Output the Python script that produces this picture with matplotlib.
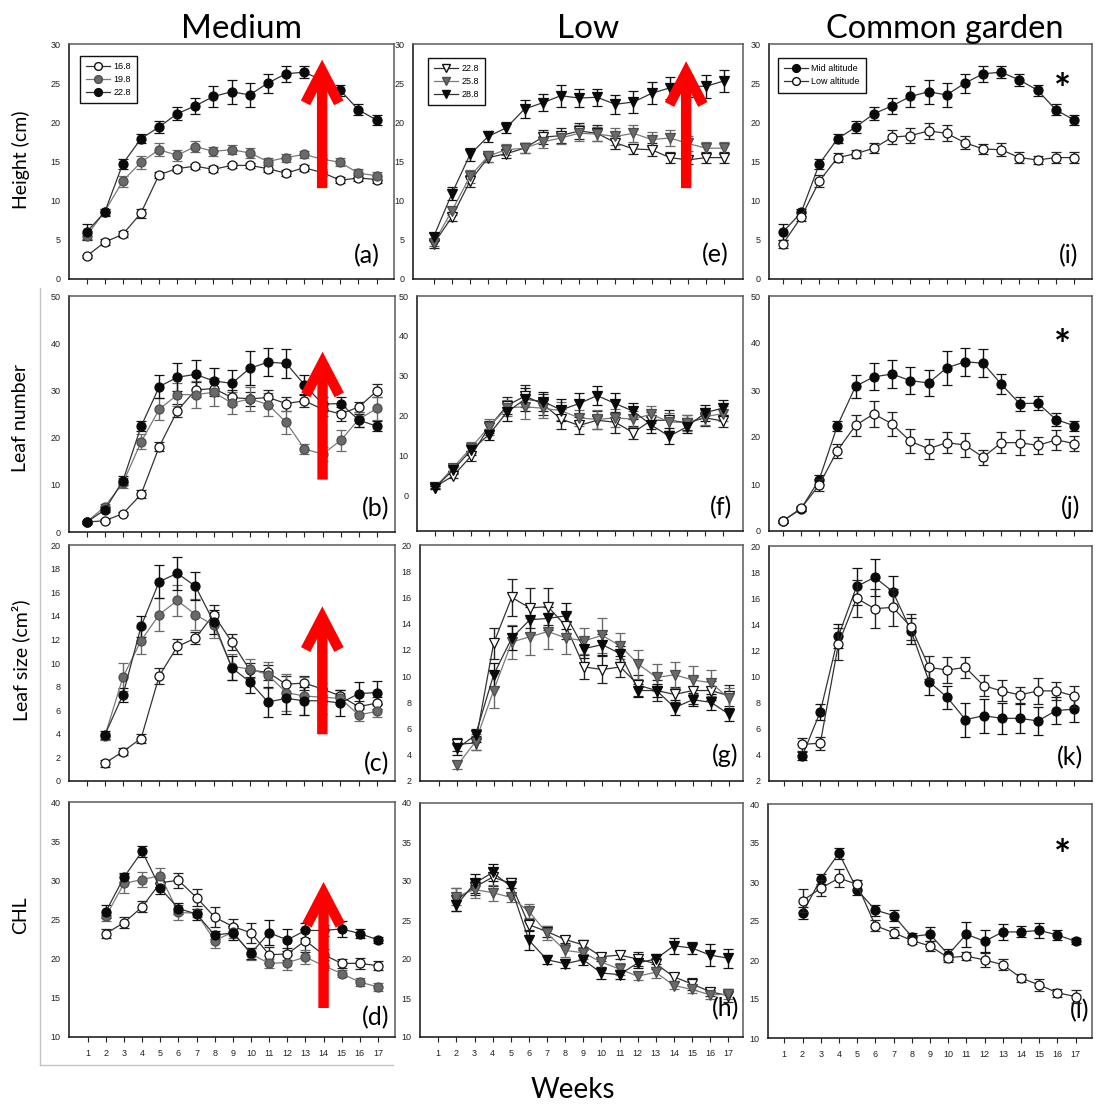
import matplotlib
matplotlib.use("Agg")
import matplotlib.pyplot as plt
from matplotlib.patches import FancyArrowPatch, ArrowStyle
from matplotlib.lines import Line2D

# ---------------------------------------------------------------- data
weeks = list(range(1, 18))
weeks_from2 = list(range(2, 18))

# Height (cm), weeks 1-17
height_med_168 = [2.9, 4.7, 5.7, 8.4, 13.3, 14.1, 14.4, 14.0, 14.5, 14.5, 14.1, 13.5, 14.2, 13.6, 12.6, 12.9, 12.7]
height_med_168_se = [0.2, 0.4, 0.4, 0.6, 0.4, 0.3, 0.3, 0.4, 0.3, 0.3, 0.4, 0.4, 0.4, 0.4, 0.4, 0.4, 0.4]
height_med_198 = [5.5, 8.6, 12.5, 14.9, 16.5, 15.8, 16.9, 16.3, 16.5, 16.1, 15.0, 15.5, 15.9, 15.3, 14.9, 13.5, 13.2]
height_med_198_se = [0.4, 0.4, 0.7, 0.8, 0.8, 0.7, 0.7, 0.6, 0.6, 0.6, 0.5, 0.5, 0.5, 0.5, 0.5, 0.5, 0.5]
height_mid = [6.0, 8.5, 14.7, 17.9, 19.4, 21.1, 22.1, 23.3, 23.9, 23.5, 25.0, 26.2, 26.4, 25.4, 24.1, 21.6, 20.3]
height_mid_se = [1.0, 0.5, 0.6, 0.6, 0.8, 0.8, 1.0, 1.4, 1.5, 1.5, 1.2, 1.0, 0.8, 0.8, 0.7, 0.7, 0.7]
height_low = [4.5, 7.9, 12.5, 15.5, 16.0, 16.7, 18.1, 18.3, 18.9, 18.6, 17.4, 16.6, 16.5, 15.5, 15.2, 15.5, 15.5]
height_low_se = [0.5, 0.5, 0.8, 0.6, 0.5, 0.6, 0.9, 1.0, 1.0, 1.0, 0.8, 0.6, 0.8, 0.7, 0.5, 0.7, 0.7]
height_low_258 = [4.6, 8.7, 13.1, 15.7, 16.5, 16.7, 17.5, 18.0, 18.6, 18.5, 18.2, 18.6, 17.8, 18.0, 17.3, 16.7, 16.7]
height_low_258_se = [0.4, 0.5, 0.8, 0.7, 0.7, 0.6, 0.8, 0.8, 1.0, 0.9, 1.1, 1.1, 1.0, 1.0, 1.0, 0.8, 0.8]
height_low_288 = [5.4, 10.9, 15.9, 18.2, 19.3, 21.7, 22.5, 23.4, 23.1, 23.2, 22.3, 22.6, 23.7, 24.4, 24.6, 24.6, 25.3]
height_low_288_se = [0.5, 0.8, 0.8, 0.7, 0.7, 1.1, 1.1, 1.4, 1.2, 1.1, 1.2, 1.4, 1.4, 1.4, 1.4, 1.5, 1.4]

# Leaf number, weeks 1-17
leafn_med_168 = [2.1, 2.4, 3.9, 8.0, 18.1, 25.7, 30.1, 30.4, 28.5, 28.2, 28.5, 27.2, 27.8, 26.0, 25.0, 26.5, 29.9]
leafn_med_168_se = [0.2, 0.3, 0.3, 0.8, 1.0, 1.4, 1.6, 1.5, 1.5, 1.5, 1.5, 1.5, 1.4, 1.4, 1.4, 1.0, 1.4]
leafn_med_198 = [2.1, 5.4, 10.4, 19.1, 26.0, 29.1, 29.1, 29.6, 27.3, 28.2, 27.0, 23.2, 17.6, 16.5, 19.4, 23.9, 26.2]
leafn_med_198_se = [0.2, 0.6, 1.0, 1.6, 2.3, 2.5, 2.8, 3.0, 2.4, 2.5, 2.4, 2.4, 1.0, 1.5, 2.3, 1.6, 2.4]
leafn_mid = [2.1, 4.7, 10.9, 22.4, 30.8, 32.8, 33.4, 32.0, 31.5, 34.7, 36.0, 35.7, 31.2, 27.1, 27.2, 23.7, 22.4]
leafn_mid_se = [0.3, 0.5, 1.0, 1.1, 2.4, 2.9, 3.0, 2.8, 2.8, 3.6, 3.0, 3.0, 2.1, 1.5, 1.5, 1.4, 1.1]
leafn_low = [2.1, 4.8, 9.8, 17.1, 22.5, 24.9, 22.8, 19.1, 17.5, 18.8, 18.3, 15.7, 18.8, 18.8, 18.2, 19.4, 18.6]
leafn_low_se = [0.3, 0.6, 1.2, 1.5, 2.2, 2.7, 2.6, 2.5, 2.1, 2.3, 2.6, 1.6, 2.2, 2.6, 1.9, 2.1, 1.6]
leafn_low_258 = [1.9, 6.9, 11.9, 17.2, 21.9, 22.2, 21.8, 21.2, 19.4, 19.0, 19.4, 19.1, 20.3, 18.4, 18.2, 19.7, 20.5]
leafn_low_258_se = [0.3, 0.8, 1.4, 2.0, 2.0, 3.0, 2.5, 2.3, 2.0, 2.5, 2.3, 2.0, 2.2, 2.3, 2.0, 2.1, 2.0]
leafn_low_288 = [1.9, 6.3, 11.3, 15.2, 20.9, 24.1, 23.5, 21.4, 23.0, 25.0, 23.0, 21.1, 17.6, 14.8, 17.2, 20.7, 21.9]
leafn_low_288_se = [0.3, 0.8, 1.2, 1.4, 2.3, 2.9, 2.3, 2.8, 2.6, 2.3, 2.6, 2.1, 2.1, 2.0, 1.7, 2.0, 1.9]

# Leaf size (cm2), weeks 2-17
lsize_med_168 = [1.5, 2.5, 3.6, 8.9, 11.4, 12.1, 14.1, 11.8, 9.4, 9.2, 8.2, 8.3, 7.8, 7.2, 6.3, 6.6]
lsize_med_168_se = [0.3, 0.3, 0.4, 0.7, 0.6, 0.5, 0.8, 0.7, 0.6, 0.6, 0.7, 0.6, 0.5, 0.5, 0.5, 0.5]
lsize_med_198 = [3.8, 8.8, 11.9, 14.1, 15.3, 14.1, 13.2, 9.7, 9.5, 9.0, 7.5, 7.2, 7.1, 7.0, 5.6, 5.9]
lsize_med_198_se = [0.3, 1.2, 1.1, 1.4, 1.3, 1.3, 1.1, 1.1, 0.8, 1.1, 1.6, 1.6, 0.6, 0.5, 0.5, 0.5]
lsize_mid = [3.9, 7.3, 13.1, 16.9, 17.6, 16.5, 13.5, 9.6, 8.4, 6.7, 7.0, 6.8, 6.8, 6.6, 7.4, 7.5]
lsize_mid_se = [0.3, 0.6, 0.9, 1.4, 1.4, 1.2, 1.0, 1.0, 0.9, 1.3, 1.3, 1.2, 1.1, 1.1, 1.0, 1.0]
lsize_low = [4.8, 4.9, 12.5, 16.0, 15.2, 15.3, 13.8, 10.7, 10.5, 10.7, 9.3, 8.9, 8.6, 8.9, 8.9, 8.5]
lsize_low_se = [0.5, 0.5, 1.2, 1.4, 1.5, 1.4, 1.0, 0.9, 1.0, 0.8, 0.8, 0.8, 0.6, 1.0, 0.7, 0.8]
lsize_low_258 = [3.2, 5.0, 8.9, 12.6, 13.0, 13.4, 12.9, 12.7, 13.1, 12.3, 10.9, 9.9, 10.1, 9.7, 9.5, 8.3]
lsize_low_258_se = [0.3, 0.6, 1.3, 1.3, 1.4, 1.3, 1.2, 1.0, 1.3, 1.0, 1.1, 1.0, 1.0, 1.1, 1.0, 0.8]
lsize_low_288 = [4.5, 5.5, 10.1, 12.9, 14.3, 14.4, 14.6, 12.1, 12.4, 11.7, 8.9, 8.9, 7.6, 8.2, 8.0, 7.1]
lsize_low_288_se = [0.5, 0.5, 0.9, 0.9, 1.0, 0.9, 1.0, 0.7, 0.8, 0.6, 0.5, 0.5, 0.6, 0.5, 0.6, 0.5]

# Chlorophyll (CHL), weeks 2-17
chl_med_168 = [23.2, 24.6, 26.6, 29.7, 30.0, 27.8, 25.3, 24.1, 23.3, 20.5, 20.6, 22.3, 20.5, 19.4, 19.4, 19.1]
chl_med_168_se = [0.6, 0.7, 0.7, 0.6, 1.0, 1.1, 1.3, 1.0, 1.3, 1.0, 0.8, 1.5, 0.7, 0.6, 0.7, 0.6]
chl_med_198 = [25.4, 29.6, 30.1, 30.6, 25.9, 25.8, 22.3, 23.4, 20.6, 19.4, 19.5, 20.2, 19.1, 18.1, 17.0, 16.4]
chl_med_198_se = [0.6, 1.2, 1.0, 1.0, 1.0, 0.5, 1.0, 0.8, 0.8, 0.6, 1.0, 0.9, 0.6, 0.5, 0.5, 0.5]
chl_mid = [26.0, 30.4, 33.7, 29.0, 26.4, 25.7, 23.0, 23.3, 20.7, 23.3, 22.4, 23.6, 23.6, 23.8, 23.2, 22.4]
chl_mid_se = [0.8, 0.6, 0.7, 0.7, 0.7, 0.7, 0.5, 0.9, 0.7, 1.6, 1.4, 1.0, 0.7, 1.0, 0.6, 0.4]
chl_low = [27.6, 29.2, 30.5, 29.7, 24.4, 23.5, 22.5, 21.8, 20.3, 20.5, 20.0, 19.4, 17.7, 16.8, 15.8, 15.3]
chl_low_se = [1.5, 1.0, 1.2, 0.6, 0.7, 0.7, 0.5, 0.7, 0.5, 0.5, 0.9, 0.7, 0.5, 0.8, 0.5, 0.8]
chl_low_258 = [28.0, 28.9, 28.5, 27.9, 26.1, 23.3, 21.1, 20.8, 19.6, 18.7, 17.8, 18.3, 16.6, 16.1, 15.4, 15.5]
chl_low_258_se = [1.1, 1.1, 1.0, 0.6, 0.9, 0.9, 0.8, 0.8, 0.6, 0.8, 0.5, 0.7, 0.5, 0.5, 0.5, 0.6]
chl_low_288 = [26.9, 29.7, 31.1, 29.3, 22.4, 19.9, 19.4, 19.9, 18.2, 18.0, 19.5, 20.0, 21.7, 21.4, 20.5, 20.1]
chl_low_288_se = [0.7, 1.2, 1.1, 1.1, 1.2, 0.6, 0.6, 0.7, 0.8, 0.6, 0.6, 0.6, 1.0, 0.8, 1.4, 1.2]

column_titles = ["Medium", "Low", "Common garden"]
row_labels = ["Height (cm)", "Leaf number", "Leaf size (cm\u00b2)", "CHL"]
panel_tags = [["(a)", "(b)", "(c)", "(d)"], ["(e)", "(f)", "(g)", "(h)"], ["(i)", "(j)", "(k)", "(l)"]]
medium_legend = ["16.8", "19.8", "22.8"]
low_legend = ["22.8", "25.8", "28.8"]
garden_legend = ["Mid altitude", "Low altitude"]
x_axis_label = "Weeks"

# ---------------------------------------------------------------- style
W, H = 1097, 1106
fig = plt.figure(figsize=(W / 100, H / 100), dpi=100)
fig.patch.set_facecolor("white")

TICK_FONT = "Liberation Sans"
TEXT_FONT = "Lato"

OPEN = dict(mfc="white", mec="#111111", color="#333333", ecolor="#222222")
GREY = dict(mfc="#6a6a6a", mec="#4d4d4d", color="#7a7a7a", ecolor="#6a6a6a")
DARK = dict(mfc="#0a0a0a", mec="#0a0a0a", color="#333333", ecolor="#111111")

# panel frames in pixels: left, top, right, bottom, x of week 1, x of week 17
frames = {
    (0, 0): (69, 44, 394, 279, 86.5, 376.5),
    (0, 1): (69, 296, 395, 532, 86.7, 377.0),
    (0, 2): (69, 545, 395, 781, 86.7, 376.7),
    (0, 3): (69, 802, 395, 1037, 87.7, 378.0),
    (1, 0): (413, 44, 743, 279, 433.7, 724.3),
    (1, 1): (417, 296, 743, 531, 435.0, 723.3),
    (1, 2): (420, 545, 743, 781, 439.3, 729.0),
    (1, 3): (420, 803, 743, 1037, 438.3, 728.3),
    (2, 0): (769, 44, 1092, 279, 783.0, 1074.0),
    (2, 1): (769, 296, 1092, 531, 782.7, 1074.3),
    (2, 2): (769, 546, 1092, 781, 784.0, 1074.3),
    (2, 3): (768, 804, 1092, 1038, 784.3, 1075.7),
}
ylims = [(0, 30), (0, 50), (0, 20), (10, 40)]
yticks = [range(0, 31, 5), range(0, 51, 10), range(0, 21, 2), range(10, 41, 5)]
ylims_low = [(0, 30), (-9, 50), (2, 20), (10, 40)]
yticks_low = [range(0, 31, 5), range(0, 51, 10), range(2, 21, 2), range(10, 41, 5)]
ylims_garden = [(0, 30), (0, 50), (2, 20), (10, 40)]
yticks_garden = [range(0, 31, 5), range(0, 51, 10), range(2, 21, 2), range(10, 41, 5)]


def make_axes(col, row):
    left, top, right, bottom, t1, t17 = frames[(col, row)]
    ax = fig.add_axes([left / W, 1 - bottom / H, (right - left) / W, (bottom - top) / H])
    step = (t17 - t1) / 16
    ax.set_xlim(1 - (t1 - left) / step, 17 + (right - t17) / step)
    ax.set_xticks(weeks)
    ax.tick_params(axis="x", direction="out", length=3.5, width=0.8, colors="#222222",
                   labelsize=6.5, pad=5, labelbottom=(row == 3))
    ax.tick_params(axis="y", direction="out", length=0, width=0.8, colors="#222222",
                   labelsize=6.5, pad=6)
    for lab in ax.get_xticklabels() + ax.get_yticklabels():
        lab.set_fontfamily(TICK_FONT)
    for side in ("left", "bottom"):
        ax.spines[side].set_color("#111111")
        ax.spines[side].set_linewidth(1.1)
    for side in ("top", "right"):
        ax.spines[side].set_color("#5a5a5a")
        ax.spines[side].set_linewidth(1.1)
    return ax


def series(ax, x, y, e, style, marker, label=None, z=3):
    cont = ax.errorbar(x, y, yerr=e, marker=marker, ms=6.5 if marker == "o" else 7,
                       mfc=style["mfc"], mec=style["mec"], mew=0.9, color=style["color"],
                       lw=0.9, ecolor=style["ecolor"], elinewidth=1.0, capsize=3.8,
                       capthick=1.0, zorder=z, label=label)
    return cont


def red_arrow(ax, x, y0, y1):
    style = ArrowStyle("->", head_length=23, head_width=12)
    arr = FancyArrowPatch((x, y0), (x, y1), arrowstyle=style, mutation_scale=1,
                          color="#ff0000", lw=7.5, shrinkA=0, shrinkB=0,
                          joinstyle="miter", capstyle="butt", zorder=6)
    ax.add_patch(arr)


def legend(ax, handles, labels, anchor):
    leg = ax.legend(handles, labels, loc="upper left", bbox_to_anchor=anchor,
                    borderaxespad=0, frameon=True, fancybox=False, framealpha=1,
                    edgecolor="#111111", handlelength=2.6, handletextpad=0.4,
                    labelspacing=0.42, borderpad=0.7, markerscale=0.8,
                    prop={"family": TICK_FONT, "size": 6.5})
    leg.get_frame().set_linewidth(1.0)


def leg_handle(style, marker):
    return Line2D([], [], marker=marker, ms=7, mfc=style["mfc"], mec=style["mec"],
                  color=style["color"], lw=0.9)


# ---------------------------------------------------------------- panels
medium_sets = [
    (weeks, [(height_med_168, height_med_168_se), (height_med_198, height_med_198_se), (height_mid, height_mid_se)]),
    (weeks, [(leafn_med_168, leafn_med_168_se), (leafn_med_198, leafn_med_198_se), (leafn_mid, leafn_mid_se)]),
    (weeks_from2, [(lsize_med_168, lsize_med_168_se), (lsize_med_198, lsize_med_198_se), (lsize_mid, lsize_mid_se)]),
    (weeks_from2, [(chl_med_168, chl_med_168_se), (chl_med_198, chl_med_198_se), (chl_mid, chl_mid_se)]),
]
medium_arrows = [(14, 11.6, 28.0), (14, 11.1, 38.2), (14, 3.96, 14.8), (14, 13.7, 29.8)]
low_sets = [
    (weeks, [(height_low, height_low_se), (height_low_258, height_low_258_se), (height_low_288, height_low_288_se)]),
    (weeks, [(leafn_low, leafn_low_se), (leafn_low_258, leafn_low_258_se), (leafn_low_288, leafn_low_288_se)]),
    (weeks_from2, [(lsize_low, lsize_low_se), (lsize_low_258, lsize_low_258_se), (lsize_low_288, lsize_low_288_se)]),
    (weeks_from2, [(chl_low, chl_low_se), (chl_low_258, chl_low_258_se), (chl_low_288, chl_low_288_se)]),
]
garden_sets = [
    (weeks, [(height_mid, height_mid_se), (height_low, height_low_se)]),
    (weeks, [(leafn_mid, leafn_mid_se), (leafn_low, leafn_low_se)]),
    (weeks_from2, [(lsize_mid, lsize_mid_se), (lsize_low, lsize_low_se)]),
    (weeks_from2, [(chl_mid, chl_mid_se), (chl_low, chl_low_se)]),
]

tag_pos = {
    (0, 0): (0.955, 0.068), (0, 1): (0.982, 0.068), (0, 2): (0.982, 0.040), (0, 3): (0.982, 0.050),
    (1, 0): (0.955, 0.072), (1, 1): (0.966, 0.068), (1, 2): (0.985, 0.075), (1, 3): (0.988, 0.090),
    (2, 0): (0.957, 0.068), (2, 1): (0.963, 0.068), (2, 2): (0.972, 0.067), (2, 3): (0.992, 0.085),
}
TAG_SIZE = 18

for row in range(4):
    # Medium
    ax = make_axes(0, row)
    x, sets = medium_sets[row]
    for (y, e), st in zip(sets, [OPEN, GREY, DARK]):
        series(ax, x, y, e, st, "o")
    ax.set_ylim(*ylims[row])
    ax.set_yticks(list(yticks[row]))
    xa, ya0, ya1 = medium_arrows[row]
    red_arrow(ax, xa, ya0, ya1)
    if row == 0:
        legend(ax, [leg_handle(s, "o") for s in (OPEN, GREY, DARK)], medium_legend, (0.034, 0.949))
    ax.text(*tag_pos[(0, row)], panel_tags[0][row], transform=ax.transAxes, ha="right",
            va="baseline", fontsize=TAG_SIZE, family=TEXT_FONT)

    # Low
    ax = make_axes(1, row)
    x, sets = low_sets[row]
    for (y, e), st in zip(sets, [OPEN, GREY, DARK]):
        series(ax, x, y, e, st, "v")
    ax.set_ylim(*ylims_low[row])
    ax.set_yticks(list(yticks_low[row]))
    if row == 0:
        red_arrow(ax, 14.9, 11.6, 27.8)
        legend(ax, [leg_handle(s, "v") for s in (OPEN, GREY, DARK)], low_legend, (0.045, 0.94))
    ax.text(*tag_pos[(1, row)], panel_tags[1][row], transform=ax.transAxes, ha="right",
            va="baseline", fontsize=TAG_SIZE, family=TEXT_FONT)

    # Common garden
    ax = make_axes(2, row)
    x, sets = garden_sets[row]
    series(ax, x, sets[0][0], sets[0][1], DARK, "o", z=3)
    series(ax, x, sets[1][0], sets[1][1], OPEN, "o", z=4)
    ax.set_ylim(*ylims_garden[row])
    ax.set_yticks(list(yticks_garden[row]))
    if row == 0:
        legend(ax, [leg_handle(DARK, "o"), leg_handle(OPEN, "o")], garden_legend, (0.028, 0.94))
    if row in (0, 1, 3):
        star_y = {0: 0.80, 1: 0.78, 3: 0.77}[row]
        ax.text(0.91, star_y, "*", transform=ax.transAxes, ha="center", va="center",
                fontsize=29, fontweight="bold", family=TEXT_FONT)
    ax.text(*tag_pos[(2, row)], panel_tags[2][row], transform=ax.transAxes, ha="right",
            va="baseline", fontsize=TAG_SIZE, family=TEXT_FONT)

# thin grey border framing the lower-left block of panels
fig.add_artist(Line2D([40 / W, 40 / W], [1 - 288 / H, 1 - 1065 / H], color="#c4c4c4", lw=1.0))
fig.add_artist(Line2D([40 / W, 393 / W], [1 - 1065 / H, 1 - 1065 / H], color="#c4c4c4", lw=1.0))

# ---------------------------------------------------------------- titles and labels
title_sizes = [24, 24, 23.5]
for title, xc, fs in zip(column_titles, [242, 588, 945], title_sizes):
    fig.text(xc / W, 1 - 38 / H, title, ha="center", va="baseline", fontsize=fs, family=TEXT_FONT)
for label, yc in zip(row_labels, [160, 418, 660, 915]):
    fig.text(21 / W, 1 - yc / H, label, ha="center", va="center", rotation=90,
             fontsize=14, family=TEXT_FONT)
fig.text(573 / W, 1 - 1090 / H, x_axis_label, ha="center", va="center", fontsize=20, family=TEXT_FONT)

fig.savefig("out.png", dpi=100, facecolor="white")
